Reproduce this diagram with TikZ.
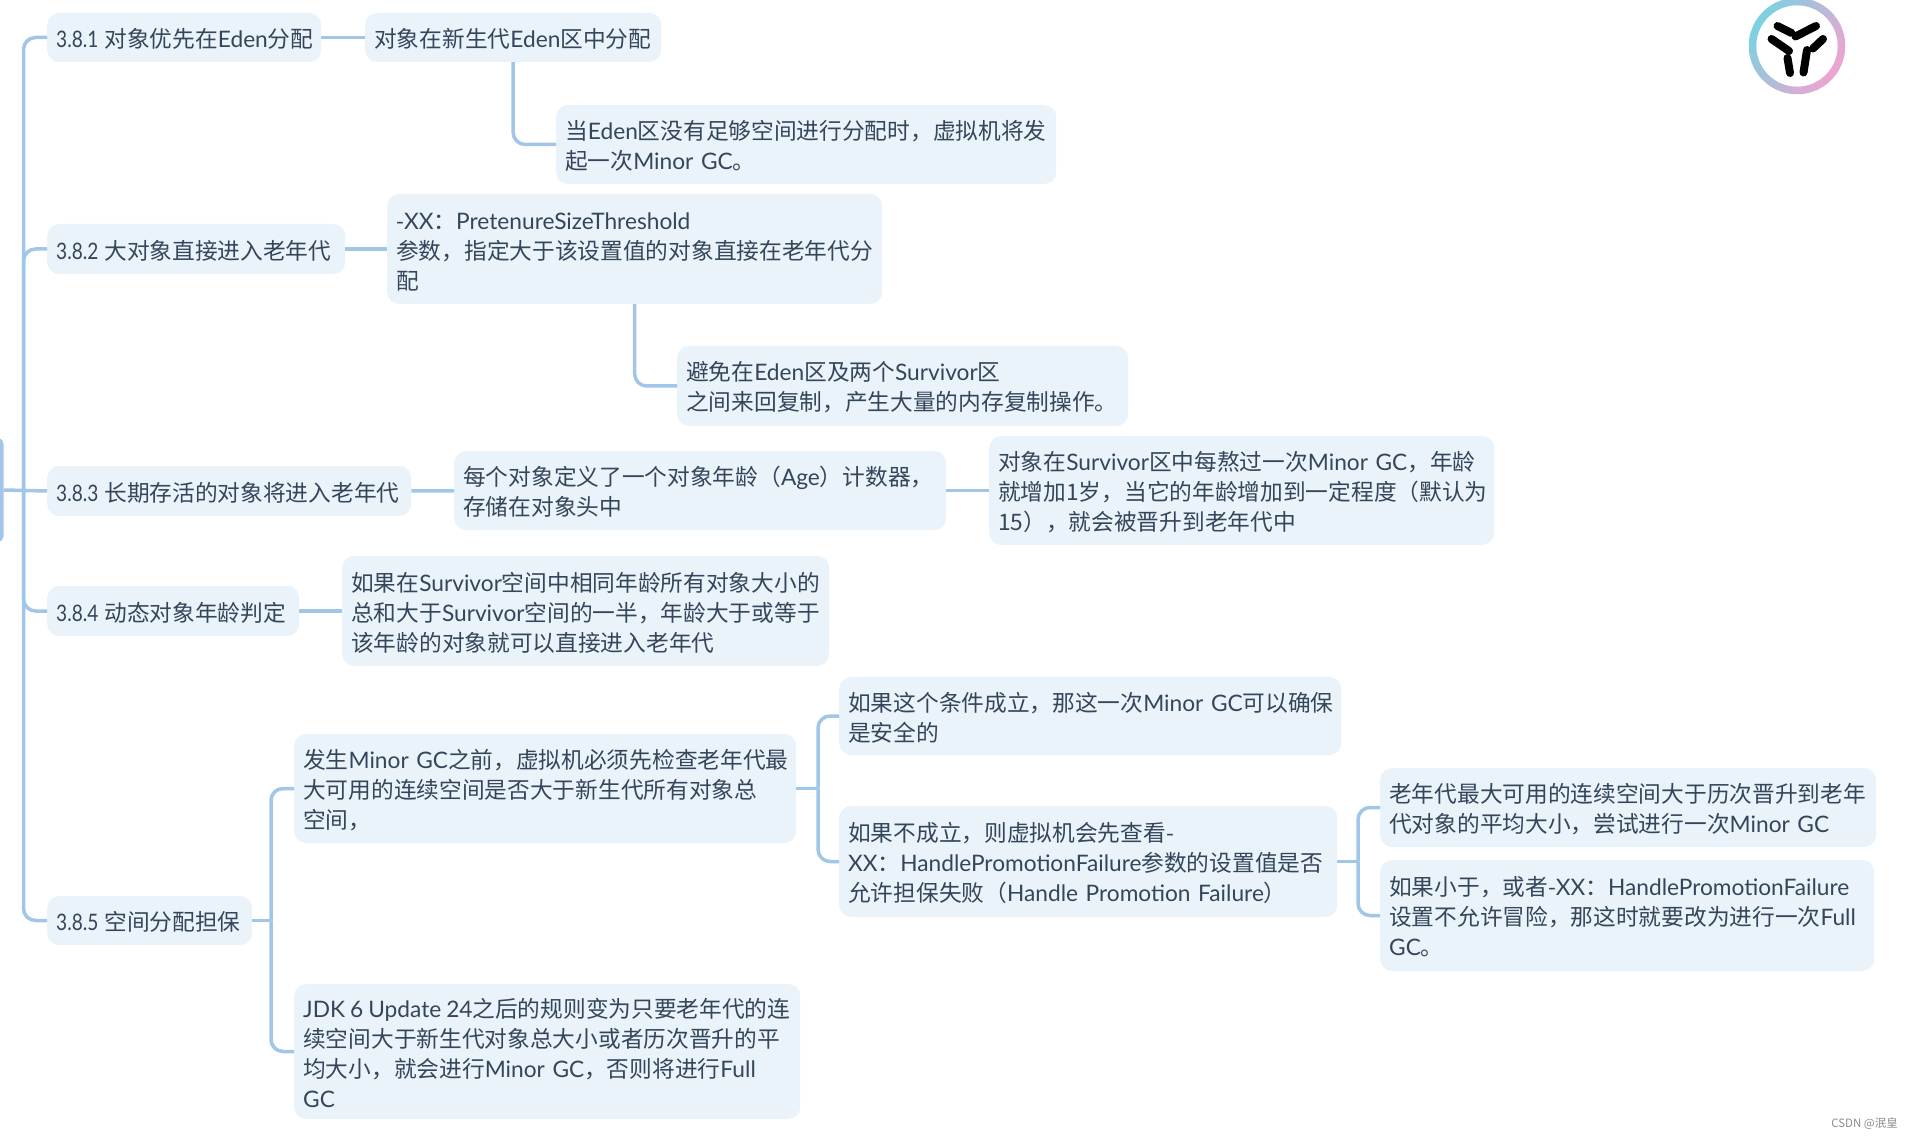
\documentclass[tikz,border=0pt]{standalone}
\usepackage{graphicx}
\usepackage{fontspec}
\setmainfont{Noto Sans CJK SC}
\newfontfamily\latinfont[Scale=1.0]{Lato}
\newcommand{\en}[1]{{\latinfont #1}}
\newcommand{\secno}[1]{\scalebox{0.84}[1]{\latinfont #1}\kern6pt}
\usepackage{xcolor}
\definecolor{linkblue}{HTML}{A2C6E8}
\definecolor{boxfill}{HTML}{EAF2FA}
\definecolor{inktext}{HTML}{34465A}
\definecolor{logoteal}{HTML}{7FD0E0}
\definecolor{logopink}{HTML}{EBA5D2}
\usetikzlibrary{arrows.meta,positioning,calc,fit}

\begin{document}
\begin{tikzpicture}[
  x=1pt, y=-1pt,
  font=\fontsize{22.7}{30}\selectfont,
  topic/.style 2 args={fill=boxfill, text=inktext, rounded corners=12pt, anchor=west,
    inner xsep=9pt, inner ysep=0pt, align=left, text width=#1pt-18pt, minimum height=#2pt,
    execute at begin node={\rule{0pt}{22pt}}},
  link/.style={draw=linkblue, line width=3.5pt, rounded corners=12pt},
  stub/.style={draw=linkblue, line width=3.5pt},
  glyph/.style={draw=black, line width=8pt, line cap=round}
]
  \useasboundingbox (0,0) rectangle (1912,1139);

  \node[fill=linkblue, rounded corners=6pt, minimum width=24pt, minimum height=104pt, inner sep=0pt] (root) at (-8.5,490) {};
  \coordinate (trunk) at (23.5,490);

  % first level
  \node[topic={274}{49}] (eden) at (47,37.5) {\secno{3.8.1}对象优先在\en{Eden}分配};
  \node[topic={298}{50}] (large) at (47,249) {\secno{3.8.2}大对象直接进入老年代};
  \node[topic={364}{50}] (aged) at (47,491) {\secno{3.8.3}长期存活的对象将进入老年代};
  \node[topic={252}{50}] (dynamic) at (47,611) {\secno{3.8.4}动态对象年龄判定};
  \node[topic={205}{49}] (guarantee) at (47,920.5) {\secno{3.8.5}空间分配担保};

  % second level and on
  \node[topic={296}{49}] (edenA) at (365,37.5) {对象在新生代\en{Eden}区中分配};
  \node[topic={500}{79}] (edenB) at (556,144.5) {当\en{Eden}区没有足够空间进行分配时，虚拟机将发\\起一次\en{Minor~GC}。};
  \node[topic={495}{110}] (largeA) at (387,249) {-\en{XX}：\en{PretenureSizeThreshold}\\参数，指定大于该设置值的对象直接在老年代分\\配};
  \node[topic={451}{80}] (largeB) at (677,386) {避免在\en{Eden}区及两个\en{Survivor}区\\之间来回复制，产生大量的内存复制操作。};
  \node[topic={492}{79}] (agedA) at (454,490.5) {每个对象定义了一个对象年龄（\en{Age}）计数器，\\存储在对象头中};
  \node[topic={505}{109}] (agedB) at (989,490.5) {对象在\en{Survivor}区中每熬过一次\en{Minor~GC}，年龄\\就增加1岁，当它的年龄增加到一定程度（默认为\\15），就会被晋升到老年代中};
  \node[topic={487}{110}] (dynamicA) at (342,611) {如果在\en{Survivor}空间中相同年龄所有对象大小的\\总和大于\en{Survivor}空间的一半，年龄大于或等于\\该年龄的对象就可以直接进入老年代};
  \node[topic={502}{109}] (checkA) at (294,788.5) {发生\en{Minor~GC}之前，虚拟机必须先检查老年代最\\大可用的连续空间是否大于新生代所有对象总\\空间，};
  \node[topic={506}{135}] (checkB) at (294,1051.5) {\en{JDK\kern5pt 6\kern5pt Update\kern5pt 24}之后的规则变为只要老年代的连\\续空间大于新生代对象总大小或者历次晋升的平\\均大小，就会进行\en{Minor~GC}，否则将进行\en{Full}\\\en{GC}};
  \node[topic={502}{78}] (safe) at (839,716) {如果这个条件成立，那这一次\en{Minor~GC}可以确保\\是安全的};
  \node[topic={498}{111}] (unsafe) at (839,861.5) {如果不成立，则虚拟机会先查看-\\\en{XX}：\en{HandlePromotionFailure}参数的设置值是否\\允许担保失败（\en{Handle~Promotion~Failure}）};
  \node[topic={496}{79}] (minor) at (1380,807.5) {老年代最大可用的连续空间大于历次晋升到老年\\代对象的平均大小，尝试进行一次\en{Minor~GC}};
  \node[topic={494}{111}] (full) at (1380,915.5) {如果小于，或者-\en{XX}：\en{HandlePromotionFailure}\\设置不允许冒险，那这时就要改为进行一次\en{Full}\\\en{GC}。};

  % connectors
  \draw[stub] (root.east) -- (aged.west);
  \draw[link] (trunk) |- (eden.west);
  \draw[link] (trunk) |- (large.west);
  \draw[link] (trunk) |- (dynamic.west);
  \draw[link] (trunk) |- (guarantee.west);
  \draw[stub] (eden) -- (edenA);
  \draw[link] (edenA.south) |- (edenB.west);
  \draw[stub] (large) -- (largeA);
  \draw[link] (largeA.south) |- (largeB.west);
  \draw[stub] (aged) -- (agedA);
  \draw[stub] (agedA) -- (agedB);
  \draw[stub] (dynamic) -- (dynamicA);

  \coordinate (forkG) at (271,920.5);
  \coordinate (forkC) at (818,788.5);
  \coordinate (forkU) at (1358,861.5);
  \draw[stub] (guarantee.east) -- (forkG);
  \draw[link] (forkG) |- (checkA.west);
  \draw[link] (forkG) |- (checkB.west);
  \draw[stub] (checkA.east) -- (forkC);
  \draw[link] (forkC) |- (safe.west);
  \draw[link] (forkC) |- (unsafe.west);
  \draw[stub] (unsafe.east) -- (forkU);
  \draw[link] (forkU) |- (minor.west);
  \draw[link] (forkU) |- (full.west);

  % logo, ring first
  \foreach \a in {0,3,...,357}{
    \pgfmathsetmacro{\mixval}{50*(1-cos(\a-210))}
    \draw[draw=logopink!\mixval!logoteal, line width=7.5pt]
      (1797,46) ++(\a:44.5) arc[start angle=\a, delta angle=4, radius=44.5];
  }
  \draw[glyph] (1777.5,26) -- (1791.5,33);
  \draw[glyph] (1795.5,36.5) -- (1816,26);
  \draw[glyph] (1771.5,39) -- (1789,51);
  \draw[glyph] (1823,39) -- (1813,48.5);
  \draw[glyph] (1787.5,58) -- (1790,73);
  \draw[glyph] (1807,50) -- (1803.5,72.5);

  \node[text=black!45, font=\fontsize{11.5}{14}\selectfont, anchor=east, inner sep=0pt] (mark) at (1898,1124) {CSDN @泯皇};
\end{tikzpicture}
\end{document}
